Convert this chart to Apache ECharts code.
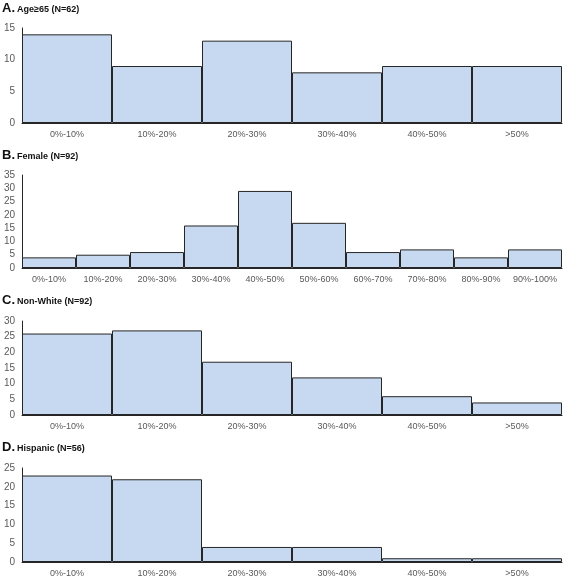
<!DOCTYPE html>
<html>
<head>
<meta charset="utf-8">
<script src="https://cdn.jsdelivr.net/npm/echarts@6/dist/echarts.min.js"></script>
<style>
html,body{margin:0;padding:0;background:#fff;}
#c{width:567px;height:579px;}
</style>
</head>
<body>
<div id="c"></div>
<script>
// Panel A: Age>=65
const catsA = ['0%-10%','10%-20%','20%-30%','30%-40%','40%-50%','>50%'];
const valsA = [14, 9, 13, 8, 9, 9];
// Panel B: Female
const catsB = ['0%-10%','10%-20%','20%-30%','30%-40%','40%-50%','50%-60%','60%-70%','70%-80%','80%-90%','90%-100%'];
const valsB = [4, 5, 6, 16, 29, 17, 6, 7, 4, 7];
// Panel C: Non-White
const catsC = ['0%-10%','10%-20%','20%-30%','30%-40%','40%-50%','>50%'];
const valsC = [26, 27, 17, 12, 6, 4];
// Panel D: Hispanic
const catsD = ['0%-10%','10%-20%','20%-30%','30%-40%','40%-50%','>50%'];
const valsD = [23, 22, 4, 4, 1, 1];

const yMax = [15, 35, 30, 25];
const letters = ['A.', 'B.', 'C.', 'D.'];
const names = ['Age\u226565 (N=62)', 'Female (N=92)', 'Non-White (N=92)', 'Hispanic (N=56)'];

const panels = [
  {cats: catsA, vals: valsA},
  {cats: catsB, vals: valsB},
  {cats: catsC, vals: valsC},
  {cats: catsD, vals: valsD}
];
const gridTops = [28, 175, 321, 468];
const gridHeights = [95, 93, 94, 94];
const titleTops = [2, 149, 294, 441];

const FONT = '"Liberation Sans", Arial, sans-serif';
const LINE = '#262626';
const LABEL = '#595959';

const option = {
  backgroundColor: '#fff',
  animation: false,
  title: panels.map((p, i) => ({
    left: 2,
    top: titleTops[i],
    padding: 0,
    text: '{a|' + letters[i] + '}{b|' + names[i] + '}',
    textStyle: {
      rich: {
        a: {fontFamily: FONT, fontSize: 13, fontWeight: 'bold', color: '#111', verticalAlign: 'bottom'},
        b: {fontFamily: FONT, fontSize: 9, fontWeight: 'bold', color: '#111', padding: [0, 0, 1, 2], verticalAlign: 'bottom'}
      }
    }
  })),
  grid: panels.map((p, i) => ({
    left: 22, width: 540, top: gridTops[i], height: gridHeights[i], containLabel: false
  })),
  xAxis: panels.map((p, i) => ({
    type: 'category',
    gridIndex: i,
    data: p.cats,
    boundaryGap: true,
    axisLine: {show: true, lineStyle: {color: LINE, width: 1}},
    axisTick: {show: false},
    axisLabel: {interval: 0, color: LABEL, fontFamily: FONT, fontSize: 9, margin: 7},
    splitLine: {show: false}
  })),
  yAxis: panels.map((p, i) => ({
    type: 'value',
    gridIndex: i,
    min: 0,
    max: yMax[i],
    interval: 5,
    axisLine: {show: true, lineStyle: {color: LINE, width: 1}},
    axisTick: {show: false},
    axisLabel: {color: LABEL, fontFamily: FONT, fontSize: 10, margin: 7},
    splitLine: {show: false}
  })),
  series: panels.map((p, i) => ({
    type: 'bar',
    xAxisIndex: i,
    yAxisIndex: i,
    data: p.vals,
    barCategoryGap: '0%',
    itemStyle: {color: '#c6d9f1', borderColor: LINE, borderWidth: 1},
    silent: true
  }))
};

const chart = echarts.init(document.getElementById('c'), null, {renderer: 'canvas'});
chart.setOption(option);
</script>
</body>
</html>
